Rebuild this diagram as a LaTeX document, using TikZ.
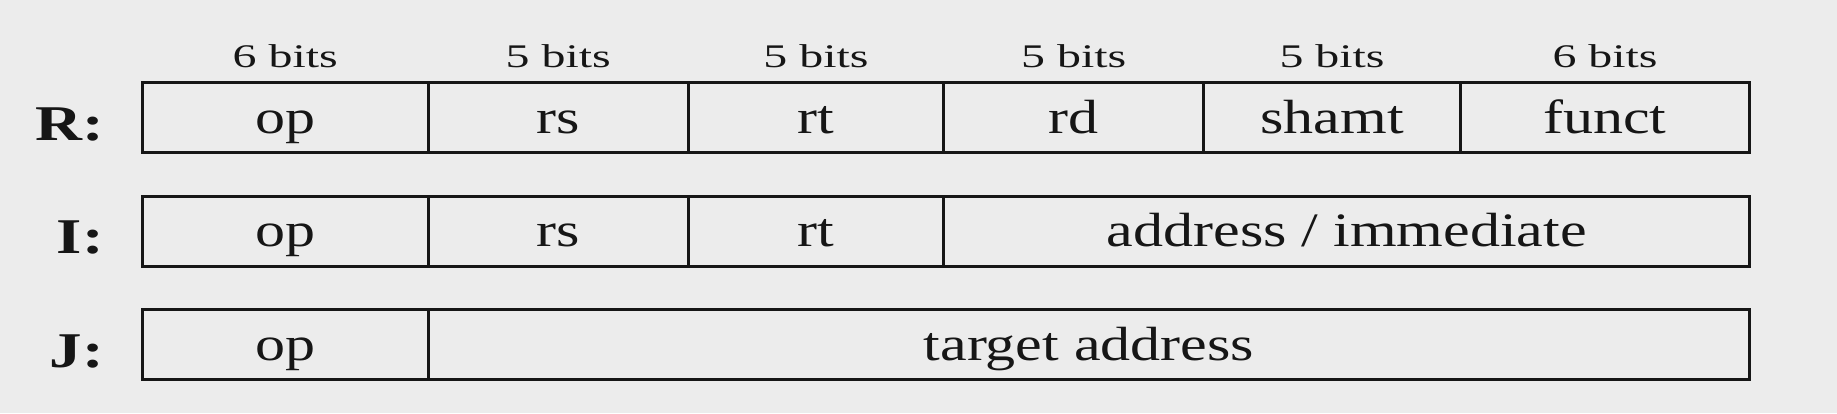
\documentclass[tikz,border=0pt]{standalone}
\usetikzlibrary{calc}
\usepackage{fontspec}
\setmainfont[FakeStretch=1.25]{Liberation Serif}
\newfontfamily\bitsfont[FakeStretch=1.45]{Liberation Serif}
\newfontfamily\rowfont[FakeStretch=1.3]{Liberation Serif}
\definecolor{bgc}{RGB}{236,236,236}
\definecolor{inkc}{RGB}{22,22,22}
\newcommand{\addrimm}{address / immediate}
\begin{document}
\begin{tikzpicture}[x=1pt,y=1pt,
  cell/.style={draw=inkc, line width=3.4pt, rectangle, inner sep=0pt, minimum height=70pt,
    text height=40pt, text depth=8.6pt, font=\fontsize{48}{48}\selectfont, text=inkc},
  bitslbl/.style={anchor=base, inner sep=0pt, font=\bitsfont\fontsize{33}{33}\selectfont, text=inkc},
  rowlbl/.style={anchor=base east, inner sep=0pt, font=\rowfont\bfseries\fontsize{50}{50}\selectfont, text=inkc}]
\fill[bgc] (0,0) rectangle (1837,-413);
\useasboundingbox (0,0) rectangle (1837,-413);
% column edges
\def\xa{140.6}\def\xb{426.5}\def\xc{686.5}\def\xd{942}\def\xe{1202}\def\xf{1458.6}\def\xg{1748}
% R row
\foreach \n/\l/\r/\t in {r1/\xa/\xb/op, r2/\xb/\xc/rs, r3/\xc/\xd/rt, r4/\xd/\xe/rd, r5/\xe/\xf/shamt, r6/\xf/\xg/funct}{
  \node[cell, minimum width={\r-\l}, anchor=north west] (\n) at (\l,-81) {\t};
}
% I row
\foreach \n/\l/\r/\t in {i1/\xa/\xb/op, i2/\xb/\xc/rs, i3/\xc/\xd/rt, i4/\xd/\xg/\addrimm}{
  \node[cell, minimum width={\r-\l}, anchor=north west] (\n) at (\l,-194.5) {\t};
}
% J row
\foreach \n/\l/\r/\t in {j1/\xa/\xb/op, j2/\xb/\xg/target address}{
  \node[cell, minimum width={\r-\l}, anchor=north west] (\n) at (\l,-308) {\t};
}
% bit widths
\foreach \n/\t in {r1/6, r2/5, r3/5, r4/5, r5/5, r6/6}{
  \node[bitslbl] (b\n) at ($(\n.north)+(0,13.7)$) {\t\ bits};
}
% row labels
\node[rowlbl] (lr) at (104,-140) {R:};
\node[rowlbl] (li) at (104,-253.5) {I:};
\node[rowlbl] (lj) at (104,-367) {J:};
\end{tikzpicture}
\end{document}
